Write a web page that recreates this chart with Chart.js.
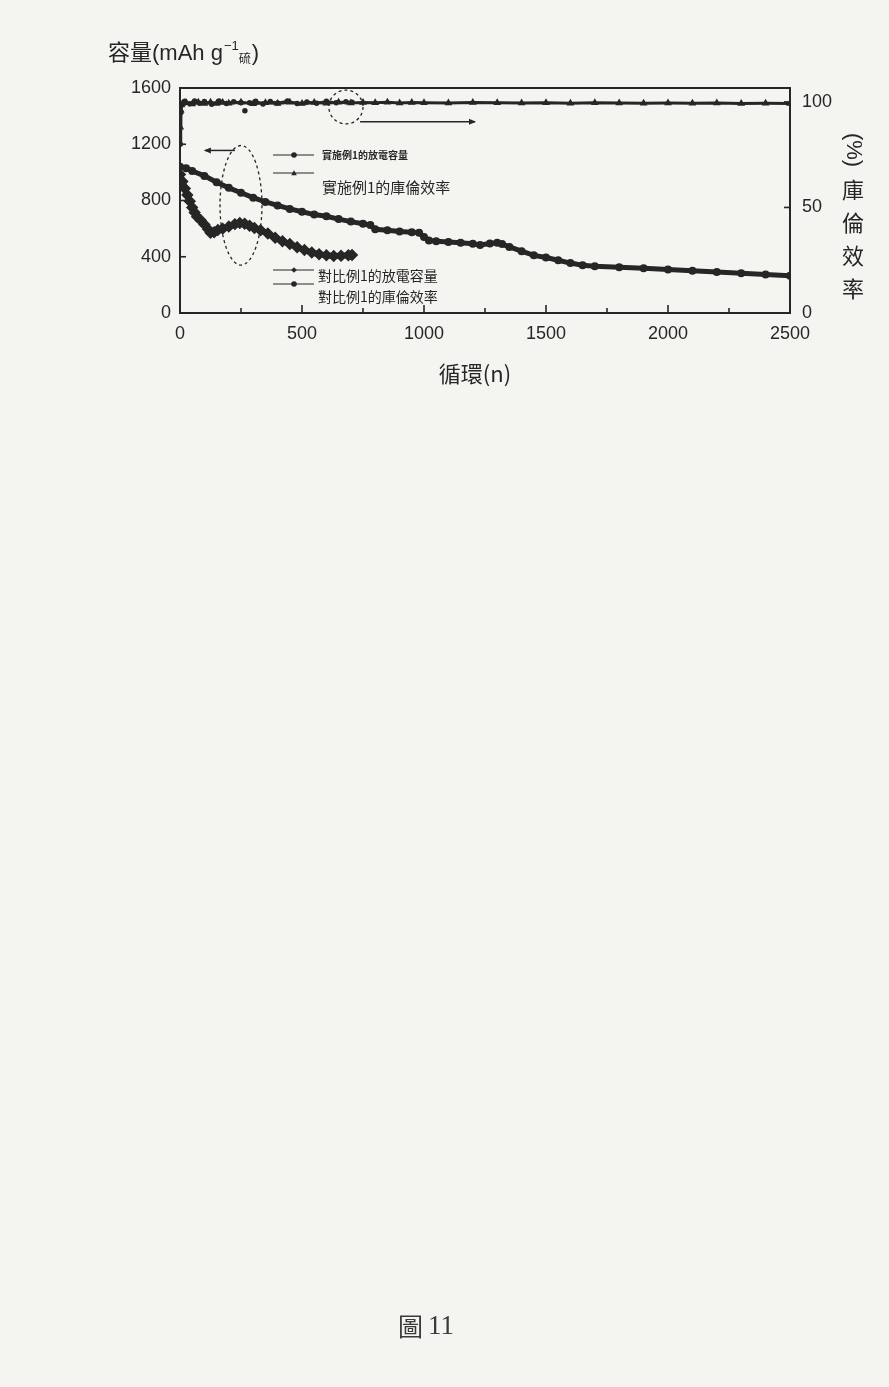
<!DOCTYPE html>
<html>
<head>
<meta charset="utf-8">
<script src="https://cdn.jsdelivr.net/npm/chart.js@4.4.1/dist/chart.umd.min.js"></script>
<style>
  html, body { margin: 0; padding: 0; background: #f4f4f1; }
  canvas { display: block; }
</style>
</head>
<body>
<canvas id="cycle" width="889" height="1387"></canvas>
<script>
// 實施例1 discharge capacity (mAh/g)
const ex1CapCycles = [0, 25, 50, 100, 150, 200, 250, 300, 350, 400, 450, 500, 550, 600, 650, 700, 750, 780,
  800, 850, 900, 950, 980, 1000, 1020, 1050, 1100, 1150, 1200, 1230, 1270, 1300, 1320, 1350, 1400, 1450,
  1500, 1550, 1600, 1650, 1700, 1800, 1900, 2000, 2100, 2200, 2300, 2400, 2500];
const ex1Capacity = [1040, 1030, 1010, 975, 930, 890, 855, 820, 790, 765, 740, 720, 700, 688, 668, 650, 635, 625,
  595, 588, 580, 574, 570, 540, 515, 510, 505, 500, 492, 484, 494, 500, 490, 470, 440, 410,
  395, 375, 355, 340, 333, 326, 318, 310, 300, 292, 283, 274, 265];

// 對比例1 discharge capacity (mAh/g)
const cmpCapCycles = [0, 10, 20, 30, 40, 50, 60, 70, 85, 100, 115, 125, 140, 155, 175, 200, 225, 245, 265,
  285, 305, 330, 360, 390, 420, 450, 480, 510, 540, 570, 600, 630, 660, 690, 705];
const cmpCapacity = [985, 935, 885, 840, 795, 750, 715, 685, 660, 630, 595, 570, 575, 590, 600, 615, 632, 640, 635,
  620, 605, 588, 565, 535, 510, 490, 468, 448, 430, 418, 410, 405, 407, 410, 412];

// 實施例1 coulombic efficiency (%)
const ex1CeCycles = [1, 3, 6, 10, 25, 50, 75, 100, 125, 150, 175, 200, 250, 300, 350, 400, 450, 500, 550, 600,
  650, 700, 750, 800, 850, 900, 950, 1000, 1100, 1200, 1300, 1400, 1500, 1600, 1700, 1800, 1900, 2000,
  2100, 2200, 2300, 2400, 2500];
const ex1Efficiency = [88, 96, 98.5, 99.2, 99.6, 99.0, 99.8, 99.3, 99.9, 99.2, 99.7, 99.4, 99.8, 99.1, 99.6, 99.3, 99.8, 99.2, 99.7, 99.4,
  99.9, 99.5, 99.7, 99.6, 99.8, 99.5, 99.7, 99.6, 99.5, 99.7, 99.6, 99.5, 99.6, 99.4, 99.6, 99.5, 99.4, 99.5,
  99.4, 99.5, 99.3, 99.4, 99.3];

// 對比例1 coulombic efficiency (%); null breaks the line around the stray cycle
const cmpCeCycles = [1, 4, 8, 20, 40, 60, 80, 100, 130, 160, 190, 220, 250, 258, 266, 274, 285, 310, 340, 370,
  400, 440, 480, 520, 560, 600, 640, 680, 705];
const cmpEfficiency = [80, 95, 98.8, 100.3, 99.1, 100.5, 99.4, 100.2, 98.9, 100.4, 99.3, 100.1, 99.6, null, 95.8, null, 99.6, 100.3, 99.0, 100.2,
  99.5, 100.4, 99.2, 100.0, 99.4, 100.3, 99.6, 100.1, 99.8];

const capTicks = [0, 400, 800, 1200, 1600];
const ceTicks = [0, 50, 100];
const cycleTicks = [0, 250, 500, 750, 1000, 1250, 1500, 1750, 2000, 2250, 2500];

const legendLabels = ['實施例1的放電容量', '實施例1的庫倫效率', '對比例1的放電容量', '對比例1的庫倫效率'];

const ink = '#262626';
const latin = '"Liberation Sans", Arial, sans-serif';
const cjk = '"Noto Sans CJK TC", "Noto Sans CJK SC", sans-serif';

const zip = (xs, ys) => xs.map((x, i) => ({ x: x, y: ys[i] }));

// dashed callouts, in data units
const capCallout = { x: 250, y: 766, rx: 86, ry: 425, arrowY: 1156, arrowFrom: 225, arrowTo: 102 };
const ceCallout = { x: 680, y: 97.6, rx: 70, ry: 8, arrowY: 90.6, arrowFrom: 738, arrowTo: 1209 };

function seg(ctx, x1, y1, x2, y2) {
  ctx.beginPath();
  ctx.moveTo(x1, y1);
  ctx.lineTo(x2, y2);
  ctx.stroke();
}

function marker(ctx, kind, x, y, r) {
  ctx.beginPath();
  if (kind === 'triangle') {
    ctx.moveTo(x, y - r);
    ctx.lineTo(x + r, y + r * 0.8);
    ctx.lineTo(x - r, y + r * 0.8);
  } else if (kind === 'diamond') {
    ctx.moveTo(x, y - r);
    ctx.lineTo(x + r, y);
    ctx.lineTo(x, y + r);
    ctx.lineTo(x - r, y);
  } else {
    ctx.arc(x, y, r, 0, Math.PI * 2);
  }
  ctx.closePath();
  ctx.fill();
}

const decor = {
  id: 'decor',
  afterDraw(chart) {
    const { ctx, chartArea: a } = chart;
    const { x, y, y2 } = chart.scales;
    ctx.save();
    ctx.strokeStyle = ink;
    ctx.fillStyle = ink;

    // frame top and inward ticks
    ctx.lineWidth = 2;
    seg(ctx, a.left, a.top, a.right, a.top);
    ctx.lineWidth = 1.6;
    cycleTicks.forEach(v => {
      const px = x.getPixelForValue(v);
      seg(ctx, px, a.bottom, px, a.bottom - (v % 500 === 0 ? 8 : 5));
    });
    capTicks.forEach(v => {
      const py = y.getPixelForValue(v);
      seg(ctx, a.left, py, a.left + 6, py);
    });
    ceTicks.forEach(v => {
      const py = y2.getPixelForValue(v);
      seg(ctx, a.right, py, a.right - 6, py);
    });

    // callout around the capacity curves, arrow to the left axis
    ctx.lineWidth = 1.3;
    ctx.setLineDash([3, 3]);
    ctx.beginPath();
    ctx.ellipse(x.getPixelForValue(capCallout.x), y.getPixelForValue(capCallout.y),
      x.getPixelForValue(capCallout.rx) - x.getPixelForValue(0),
      y.getPixelForValue(0) - y.getPixelForValue(capCallout.ry), 0, 0, Math.PI * 2);
    ctx.stroke();
    ctx.beginPath();
    ctx.ellipse(x.getPixelForValue(ceCallout.x), y2.getPixelForValue(ceCallout.y),
      x.getPixelForValue(ceCallout.rx) - x.getPixelForValue(0),
      y2.getPixelForValue(0) - y2.getPixelForValue(ceCallout.ry), 0, 0, Math.PI * 2);
    ctx.stroke();
    ctx.setLineDash([]);
    ctx.lineWidth = 1.5;
    let ay = y.getPixelForValue(capCallout.arrowY);
    let ax1 = x.getPixelForValue(capCallout.arrowFrom), ax2 = x.getPixelForValue(capCallout.arrowTo);
    seg(ctx, ax1, ay, ax2, ay);
    ctx.beginPath();
    ctx.moveTo(ax2 - 1, ay); ctx.lineTo(ax2 + 6, ay - 3); ctx.lineTo(ax2 + 6, ay + 3); ctx.closePath(); ctx.fill();
    ay = y2.getPixelForValue(ceCallout.arrowY);
    ax1 = x.getPixelForValue(ceCallout.arrowFrom); ax2 = x.getPixelForValue(ceCallout.arrowTo);
    seg(ctx, ax1, ay, ax2, ay);
    ctx.beginPath();
    ctx.moveTo(ax2 + 1, ay); ctx.lineTo(ax2 - 6, ay - 3); ctx.lineTo(ax2 - 6, ay + 3); ctx.closePath(); ctx.fill();

    // legend
    const rows = [
      { ly: 155, ty: 155, kind: 'circle', size: 10, bold: true },
      { ly: 173, ty: 187, kind: 'triangle', size: 15, bold: false },
      { ly: 270, ty: 276, kind: 'diamond', size: 14, bold: false },
      { ly: 284, ty: 297, kind: 'circle', size: 14, bold: false }
    ];
    ctx.textBaseline = 'middle';
    ctx.textAlign = 'left';
    rows.forEach((r, i) => {
      ctx.lineWidth = 1.2;
      seg(ctx, 273, r.ly, 314, r.ly);
      marker(ctx, r.kind, 294, r.ly, 2.8);
      ctx.font = (r.bold ? 'bold ' : '') + r.size + 'px ' + cjk;
      ctx.fillText(legendLabels[i], i === 2 || i === 3 ? 318 : 322, r.ty);
    });

    // axis titles
    ctx.font = '22px ' + cjk;
    ctx.textBaseline = 'alphabetic';
    let tx = 108;
    const ty = 60;
    ctx.fillText('容量', tx, ty);
    tx += ctx.measureText('容量').width;
    ctx.font = '22px ' + latin;
    ctx.fillText('(mAh g', tx, ty);
    tx += ctx.measureText('(mAh g').width;
    ctx.font = '13px ' + latin;
    ctx.fillText('\u22121', tx + 1, ty - 10);
    tx += ctx.measureText('\u22121').width + 1;
    ctx.font = '12px ' + cjk;
    ctx.fillText('硫', tx, ty + 3);
    tx += ctx.measureText('硫').width + 1;
    ctx.font = '22px ' + latin;
    ctx.fillText(')', tx, ty);

    ctx.textAlign = 'center';
    ctx.textBaseline = 'middle';
    ctx.font = '22px ' + cjk;
    ctx.fillText('循環(n)', (a.left + a.right) / 2 - 10, 374);

    ctx.save();
    ctx.translate(853, 150);
    ctx.rotate(Math.PI / 2);
    ctx.font = '22px ' + latin;
    ctx.fillText('(%)', 0, 0);
    ctx.restore();
    ctx.font = '22px ' + cjk;
    ['庫', '倫', '效', '率'].forEach((c, i) => ctx.fillText(c, 853, 190 + i * 33));

    // figure number
    ctx.textAlign = 'left';
    ctx.font = '25px ' + cjk;
    ctx.fillStyle = '#3a3a3a';
    ctx.fillText('圖', 398, 1326);
    ctx.font = '27px "Liberation Serif", serif';
    ctx.fillText('11', 428, 1327);
    ctx.restore();
  }
};

const tickFont = { family: latin, size: 18 };

new Chart(document.getElementById('cycle'), {
  type: 'line',
  data: {
    datasets: [
      {
        label: legendLabels[0],
        data: zip(ex1CapCycles, ex1Capacity),
        yAxisID: 'y',
        borderColor: ink, backgroundColor: ink,
        borderWidth: 5, pointRadius: 1.5, pointStyle: 'circle'
      },
      {
        label: legendLabels[1],
        data: zip(ex1CeCycles, ex1Efficiency),
        yAxisID: 'y2',
        borderColor: ink, backgroundColor: ink,
        borderWidth: 3, pointRadius: 1.5, pointStyle: 'triangle'
      },
      {
        label: legendLabels[2],
        data: zip(cmpCapCycles, cmpCapacity),
        yAxisID: 'y',
        borderColor: ink, backgroundColor: ink,
        borderWidth: 6, pointRadius: 2, pointStyle: 'rectRot'
      },
      {
        label: legendLabels[3],
        data: zip(cmpCeCycles, cmpEfficiency),
        yAxisID: 'y2',
        borderColor: ink, backgroundColor: ink,
        borderWidth: 2.5, pointRadius: 1.5, pointStyle: 'circle',
        spanGaps: false
      }
    ]
  },
  options: {
    responsive: false,
    animation: false,
    layout: { padding: { top: 88, left: 0, right: 0, bottom: 0 } },
    plugins: { legend: { display: false }, tooltip: { enabled: false } },
    scales: {
      x: {
        type: 'linear', min: 0, max: 2500,
        afterFit: s => { s.height = 1387 - 313; },
        afterBuildTicks: s => { s.ticks = cycleTicks.map(v => ({ value: v })); },
        grid: { display: false, drawTicks: false },
        border: { display: true, color: ink, width: 2 },
        ticks: {
          color: ink, font: tickFont, padding: 10, maxRotation: 0, autoSkip: false,
          callback: v => (v % 500 === 0 ? String(v) : '')
        }
      },
      y: {
        position: 'left', min: 0, max: 1600,
        afterFit: s => { s.width = 180; },
        afterBuildTicks: s => { s.ticks = capTicks.map(v => ({ value: v })); },
        grid: { display: false, drawTicks: false },
        border: { display: true, color: ink, width: 2 },
        ticks: { color: ink, font: tickFont, padding: 9, callback: v => String(v) }
      },
      y2: {
        position: 'right', min: 0, max: 106.6,
        afterFit: s => { s.width = 889 - 790; },
        afterBuildTicks: s => { s.ticks = ceTicks.map(v => ({ value: v })); },
        grid: { display: false, drawTicks: false },
        border: { display: true, color: ink, width: 2 },
        ticks: { color: ink, font: tickFont, padding: 12, callback: v => String(v) }
      }
    }
  },
  plugins: [decor]
});
</script>
</body>
</html>
